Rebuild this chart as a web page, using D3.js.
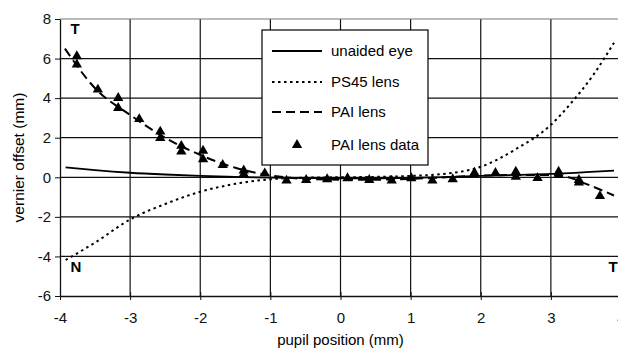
<!DOCTYPE html>
<html>
<head>
<meta charset="utf-8">
<script src="https://cdn.jsdelivr.net/npm/d3@7"></script>
<style>
  body { margin: 0; background: #fff; }
  svg { display: block; font-family: "Liberation Sans", Arial, sans-serif; }
</style>
</head>
<body>
<div id="chart"></div>
<script>
// curves [pupil position, vernier offset]
var unaidedEye = [[-3.92,0.5],[-3.5,0.36],[-3,0.23],[-2.5,0.14],[-2,0.07],[-1.5,0.02],[-1,-0.02],[-0.5,-0.04],[0,-0.05],[0.5,-0.05],[1,-0.03],[1.5,0.01],[2,0.07],[2.5,0.12],[3,0.17],[3.5,0.26],[3.9,0.34]];
var ps45Lens = [[-3.92,-4.18],[-3.5,-3.3],[-3,-2.13],[-2.5,-1.35],[-2,-0.73],[-1.5,-0.33],[-1,-0.1],[-0.5,-0.02],[0,0],[0.5,0.02],[1,0.07],[1.5,0.18],[2,0.53],[2.5,1.42],[3,2.65],[3.3,3.8],[3.6,5.15],[3.9,6.8]];
var paiLens = [[-3.93,6.5],[-3.5,4.5],[-3,3.15],[-2.5,2.0],[-2,1.13],[-1.5,0.48],[-1,0.1],[-0.5,-0.08],[0,-0.12],[0.5,-0.12],[1,-0.08],[1.5,0],[2,0.08],[2.5,0.12],[3,0.12],[3.25,0],[3.5,-0.33],[3.9,-0.92]];
var paiData = [[-3.76,6.12],[-3.76,5.7],[-3.46,4.43],[-3.17,4.01],[-3.17,3.5],[-2.87,2.94],[-2.57,2.31],[-2.57,1.98],[-2.27,1.59],[-2.27,1.3],[-1.96,1.34],[-1.96,0.91],[-1.68,0.62],[-1.38,0.34],[-1.38,0.17],[-1.08,0.2],[-0.77,-0.17],[-0.49,-0.14],[-0.19,-0.1],[0.1,-0.05],[0.41,-0.14],[0.73,-0.17],[1.01,-0.05],[1.31,-0.17],[1.6,-0.1],[1.91,0.23],[2.21,0.22],[2.5,0.28],[2.5,0.02],[2.81,-0.04],[3.11,0.28],[3.11,0.12],[3.4,-0.14],[3.4,-0.27],[3.7,-0.95]];

var xTicks = [-4,-3,-2,-1,0,1,2,3,4];
var yTicks = [-6,-4,-2,0,2,4,6,8];
var legendItems = [
  {label: "unaided eye", type: "solid"},
  {label: "PS45 lens", type: "dot"},
  {label: "PAI lens", type: "dash"},
  {label: "PAI lens data", type: "marker"}
];

var width = 618, height = 354;
var margin = {top: 19, right: -3, bottom: 58, left: 60};
var plotW = width - margin.left - margin.right;
var plotH = height - margin.top - margin.bottom;

var svg = d3.select("#chart").append("svg")
  .attr("width", width)
  .attr("height", height);

var x = d3.scaleLinear().domain([-4, 4]).range([0, plotW]);
var y = d3.scaleLinear().domain([-6, 8]).range([plotH, 0]);

var g = svg.append("g")
  .attr("transform", "translate(" + margin.left + "," + margin.top + ")");

// grid
g.append("g").selectAll("line").data(yTicks.filter(function(d){ return d > -6 && d < 8; }))
  .enter().append("line")
  .attr("x1", 0).attr("x2", plotW)
  .attr("y1", function(d){ return y(d); }).attr("y2", function(d){ return y(d); })
  .attr("stroke", "#111").attr("stroke-width", 1.2);
g.append("g").selectAll("line").data(xTicks.filter(function(d){ return d > -4; }))
  .enter().append("line")
  .attr("y1", 0).attr("y2", plotH)
  .attr("x1", function(d){ return x(d); }).attr("x2", function(d){ return x(d); })
  .attr("stroke", "#111").attr("stroke-width", 1.2);
g.append("line")
  .attr("x1", 0).attr("x2", plotW).attr("y1", 0).attr("y2", 0)
  .attr("stroke", "#777").attr("stroke-width", 1.2);

// axes (plain hyphen minus like the original)
var fmt = function(d){ return String(d); };
var xAxis = g.append("g")
  .attr("transform", "translate(0," + plotH + ")")
  .call(d3.axisBottom(x).tickValues(xTicks).tickFormat(fmt).tickSizeInner(4).tickSizeOuter(0).tickPadding(12));
var yAxis = g.append("g")
  .call(d3.axisLeft(y).tickValues(yTicks).tickFormat(fmt).tickSizeInner(5).tickSizeOuter(0).tickPadding(4));
[xAxis, yAxis].forEach(function(a) {
  a.selectAll("path").attr("stroke", "#111").attr("stroke-width", 1.3);
  a.selectAll("line").attr("stroke", "#111");
  a.selectAll("text").attr("font-size", 15).attr("fill", "#111")
    .attr("font-family", "'Liberation Sans', Arial, sans-serif");
});
xAxis.selectAll(".tick line").attr("y1", -4);

var line = d3.line()
  .x(function(d){ return x(d[0]); })
  .y(function(d){ return y(d[1]); })
  .curve(d3.curveMonotoneX);

g.append("path").datum(unaidedEye).attr("d", line)
  .attr("fill", "none").attr("stroke", "#000").attr("stroke-width", 1.8);
g.append("path").datum(ps45Lens).attr("d", line)
  .attr("fill", "none").attr("stroke", "#000").attr("stroke-width", 2)
  .attr("stroke-dasharray", "2.5,3.5");
g.append("path").datum(paiLens).attr("d", line)
  .attr("fill", "none").attr("stroke", "#000").attr("stroke-width", 2)
  .attr("stroke-dasharray", "9,5");

var tri = d3.symbol().type(d3.symbolTriangle).size(46);
g.append("g").selectAll("path").data(paiData)
  .enter().append("path")
  .attr("d", tri)
  .attr("transform", function(d){ return "translate(" + x(d[0]) + "," + y(d[1]) + ")"; })
  .attr("fill", "#000");

// corner letters
g.append("text").attr("x", x(-3.85)).attr("y", y(7.25)).text("T")
  .attr("font-weight", "bold").attr("font-size", 15);
g.append("text").attr("x", x(-3.85)).attr("y", y(-4.8)).text("N")
  .attr("font-weight", "bold").attr("font-size", 15);
g.append("text").attr("x", x(3.82)).attr("y", y(-4.8)).text("T")
  .attr("font-weight", "bold").attr("font-size", 15);

// axis titles
svg.append("text")
  .attr("x", margin.left + x(0)).attr("y", 345)
  .attr("text-anchor", "middle").attr("font-size", 15)
  .text("pupil position (mm)");
svg.append("text")
  .attr("transform", "translate(24," + (margin.top + plotH / 2) + ") rotate(-90)")
  .attr("text-anchor", "middle").attr("font-size", 15.5)
  .text("vernier offset (mm)");

// legend
var lg = svg.append("g").attr("transform", "translate(262,30)");
lg.append("rect").attr("width", 166).attr("height", 135)
  .attr("fill", "#fff").attr("stroke", "#000").attr("stroke-width", 1.2);
var rows = [21, 52, 82, 115];
legendItems.forEach(function(item, i) {
  var ry = rows[i];
  if (item.type === "marker") {
    lg.append("path").attr("d", tri).attr("transform", "translate(35," + ry + ")").attr("fill", "#000");
  } else {
    lg.append("line").attr("x1", 10).attr("x2", 60).attr("y1", ry).attr("y2", ry)
      .attr("stroke", "#000").attr("stroke-width", item.type === "solid" ? 1.8 : 2)
      .attr("stroke-dasharray", item.type === "dot" ? "2.5,3.5" : item.type === "dash" ? "9,5" : null);
  }
  lg.append("text").attr("x", 69).attr("y", ry + 5).attr("font-size", 15).text(item.label);
});
</script>
</body>
</html>
